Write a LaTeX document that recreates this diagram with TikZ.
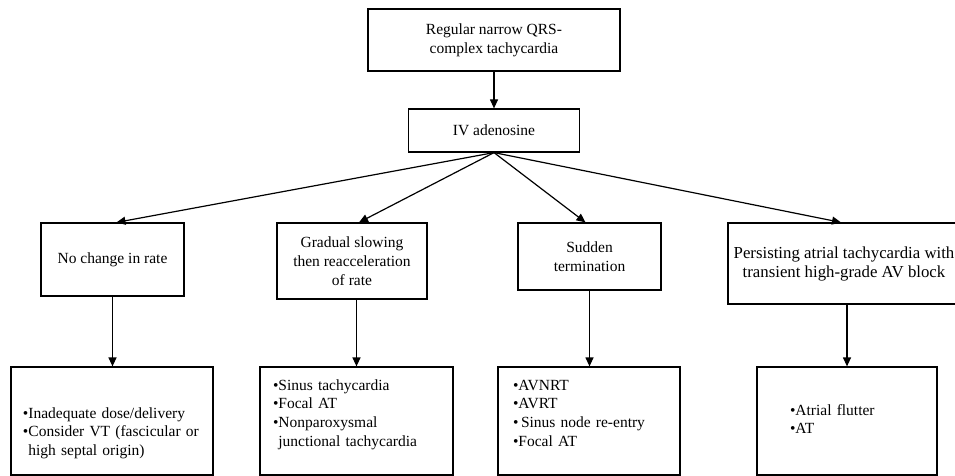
\documentclass[tikz,border=0pt]{standalone}
\usepackage{fontspec}
\setmainfont{Liberation Serif}
\usepackage{tikz}
\usetikzlibrary{arrows.meta}

\begin{document}
\begin{tikzpicture}
	[x=1pt, y=-1pt, node distance={90.5pt}, line width=1.2pt, >={Triangle[length=9pt,width=8pt]},
	main/.style = {draw, align=center, inner sep=0pt, font=\fontsize{15.5}{19}\selectfont},
	list/.style = {draw, align=left, inner ysep=0pt, font=\fontsize{15.5}{18.8}\selectfont}]
	\useasboundingbox (0,0) rectangle (955,476);
	\clip (0,0) rectangle (955,476);
	\node[main, minimum width=252pt, minimum height=62pt] (1) at (494,40) {Regular narrow QRS-\\complex tachycardia};
	\node[main, minimum width=171pt, minimum height=43pt] (2) [below of = 1] {IV adenosine};
	\node[main, minimum width=143pt, minimum height=73pt] (3) at (112.5,259.5) {No change in rate};
	\node[main, minimum width=150pt, minimum height=76pt] (4) at (352,261) {Gradual slowing\\then reacceleration\\of rate};
	\node[main, minimum width=143pt, minimum height=67pt] (5) at (589.5,256.5) {Sudden\\termination};
	\node[main, minimum width=232pt, minimum height=81pt, font=\fontsize{16.8}{19}\selectfont] (6) at (844,263.5) {Persisting atrial tachycardia with\\transient high-grade AV block};

	\node[list, text width=178pt, inner xsep=12pt, text height=51pt, text depth=57pt] (7) at (112,421) {•Inadequate dose/delivery\\•Consider VT (fascicular or\\\phantom{•}high septal origin)};
	\node[list, text width=167pt, inner xsep=13pt, text height=23pt, text depth=85pt] (8) at (356.5,421) {•Sinus tachycardia\\•Focal AT\\•Nonparoxysmal\\\phantom{•}junctional tachycardia};
	\node[list, text width=152pt, inner xsep=15pt, text height=23pt, text depth=85pt] (9) at (589,421) {•AVNRT\\•AVRT\\•\,Sinus node re-entry\\•Focal AT};
	\node[list, text width=114pt, inner xsep=33pt, text height=48pt, text depth=60pt] (10) at (847,421) {•Atrial flutter\\•AT};

	\draw[->] (1) -- (2);
	\draw[->] (2.south) -- ([xshift=4pt]3.north);
	\draw[->] (2.south) -- ([xshift=7pt]4.north);
	\draw[->] (2.south) -- ([xshift=-4pt]5.north);
	\draw[->] (2.south) -- ([xshift=-3pt]6.north);

	\draw[->] (3) -- (3 |- 7.north);
	\draw[->] (4.south -| 8.north) -- (8.north);
	\draw[->] (5) -- (5 |- 9.north);
	\draw[->] (6.south -| 10.north) -- (10.north);
\end{tikzpicture}
\end{document}
